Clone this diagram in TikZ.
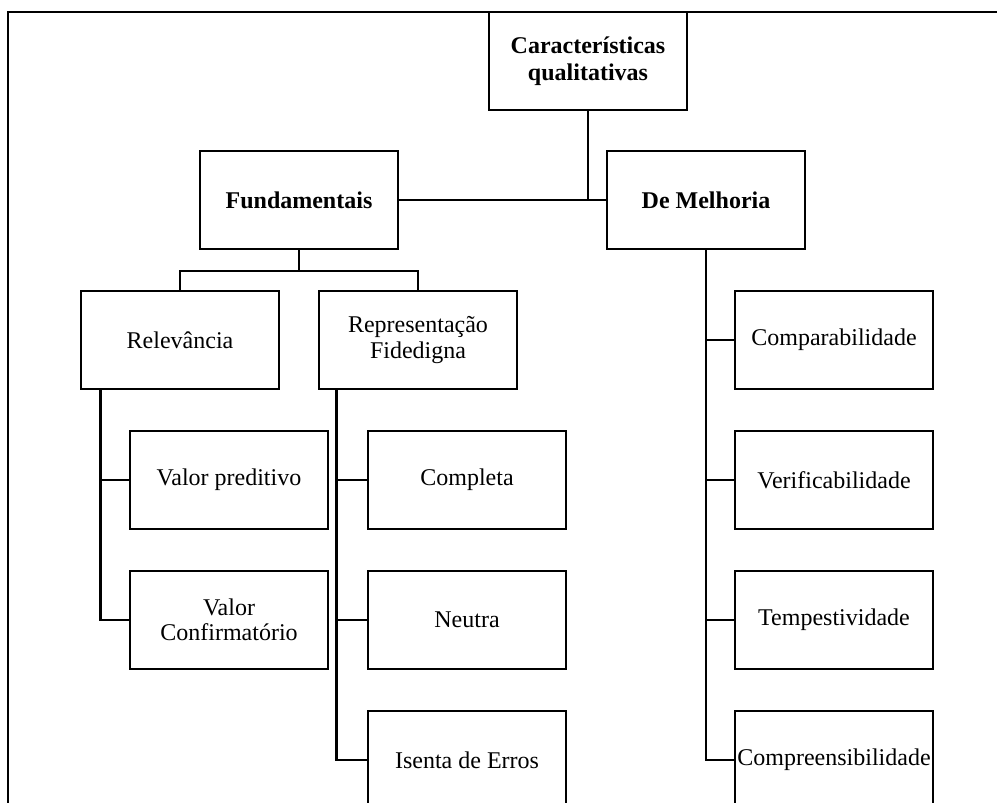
\documentclass[tikz,border=0pt]{standalone}
\usepackage{fontspec}
\setmainfont{Liberation Serif}
\tikzset{
  caixa/.style={draw, line width=2pt, rectangle, minimum width=148.5pt,
    minimum height=73.5pt, inner sep=1pt, align=center,
    font=\fontsize{18}{19}\selectfont},
  caixab/.style={caixa, font=\fontsize{18}{20}\selectfont\bfseries},
  liga/.style={line width=2pt}
}
\begin{document}
\begin{tikzpicture}[x=0.75pt,y=-0.75pt]
    \useasboundingbox (0,0) rectangle (997,803);
    % moldura
    \draw[line width=0.8pt] (8,803) -- (8,12) -- (997,12);
    \node[caixab] (Q) at (588,61) {Características\\qualitativas};
    \node[caixab] (F) at (299,200) {Fundamentais};
    \node[caixab] (M) at (706,200) {De Melhoria};
    \node[caixa] (R) at (180,340) {Relevância};
    \node[caixa] (RF) at (418,340) {Representação\\Fidedigna};
    \node[caixa] (VP) at (229,480) {Valor preditivo};
    \node[caixa] (VC) at (229,620) {Valor\\Confirmatório};
    \node[caixa] (C1) at (467,480) {Completa};
    \node[caixa] (C2) at (467,620) {Neutra};
    \node[caixa] (C3) at (467,760) {Isenta de Erros};
    \node[caixa] (M1) at (834,340) {Comparabilidade};
    \node[caixa] (M2) at (834,480) {Verificabilidade};
    \node[caixa] (M3) at (834,620) {Tempestividade};
    \node[caixa] (M4) at (834,760) {Compreensibilidade};
    \coordinate (FJ) at (299,271);
    % ligações
    \draw[liga] (Q.south) -- (Q.south |- F.east);
    \draw[liga] (F.east) -- (M.west);
    \draw[liga] (F.south) -- (FJ);
    \draw[liga] (R.north) |- (FJ) -| (RF.north);
    \draw[liga] ([xshift=15.75pt]R.south west) |- (VP.west);
    \draw[liga] ([xshift=15.75pt]R.south west) |- (VC.west);
    \draw[liga] ([xshift=14.25pt]RF.south west) |- (C1.west);
    \draw[liga] ([xshift=14.25pt]RF.south west) |- (C2.west);
    \draw[liga] ([xshift=14.25pt]RF.south west) |- (C3.west);
    \foreach \m in {M1,M2,M3,M4}
      \draw[liga] (M.south) |- (\m.west);
  \end{tikzpicture}
\end{document}
